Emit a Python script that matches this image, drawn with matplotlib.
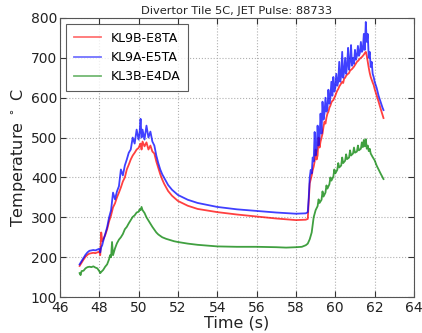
import matplotlib
matplotlib.use("Agg")
import matplotlib.pyplot as plt

# ---- data ----
t_a = [47.0, 47.1, 47.2, 47.3, 47.4, 47.5, 47.6, 47.7, 47.8, 47.9, 48.0,
       48.05, 48.1, 48.15, 48.2, 48.3, 48.4, 48.5, 48.6, 48.7, 48.8, 48.9, 49.0,
       49.1, 49.2, 49.3, 49.4, 49.5, 49.6, 49.7, 49.8, 49.9, 50.0, 50.05, 50.1,
       50.15, 50.2, 50.3, 50.4, 50.5, 50.6, 50.7, 50.8, 50.9, 51.0, 51.1, 51.2,
       51.3, 51.5, 51.7, 52.0, 52.5, 53.0, 53.5, 54.0, 55.0, 56.0, 57.0, 58.0,
       58.5, 58.6, 58.65, 58.7, 58.75, 58.8, 58.85, 58.9, 58.95, 59.0, 59.05,
       59.1, 59.15, 59.2, 59.25, 59.3, 59.35, 59.4, 59.45, 59.5, 59.55, 59.6,
       59.65, 59.7, 59.75, 59.8, 59.85, 59.9, 59.95, 60.0, 60.05, 60.1, 60.15,
       60.2, 60.25, 60.3, 60.35, 60.4, 60.45, 60.5, 60.55, 60.6, 60.65, 60.7,
       60.75, 60.8, 60.85, 60.9, 60.95, 61.0, 61.05, 61.1, 61.15, 61.2, 61.25,
       61.3, 61.35, 61.4, 61.45, 61.5, 61.55, 61.6, 61.65, 61.7, 61.75, 61.8,
       61.85, 61.9, 61.95, 62.0, 62.1, 62.2, 62.3, 62.4, 62.45]

kl9a_e5ta = [182, 190, 198, 206, 212, 216, 217, 218, 217, 219, 221,
             212, 225, 230, 240, 258, 275, 300, 318, 362, 345, 365, 378,
             420, 405, 430, 445, 462, 470, 500, 485, 520, 495, 512, 547,
             500, 520, 495, 530, 500, 515, 490, 480, 455, 436, 420, 408,
             399, 381, 369, 356, 344, 336, 331, 326, 320, 316, 312, 309,
             310, 313, 350, 400, 419, 410, 450, 440, 514, 455, 470,
             530, 480, 500, 560, 510, 590, 545, 560, 600, 565, 575,
             620, 585, 600, 640, 605, 652, 615, 625, 660, 630, 640,
             690, 640, 655, 715, 650, 665, 700, 660, 680, 725, 670,
             690, 732, 680, 700, 685, 720, 695, 705, 730, 705, 712,
             740, 715, 720, 760, 720, 790, 740, 760, 700, 715, 677,
             690, 660, 652, 640, 625, 605, 590, 575, 569]

kl9b_e8ta = [178, 186, 194, 201, 206, 209, 210, 211, 210, 212, 214,
             205, 262, 240, 245, 255, 270, 290, 305, 325, 335, 350, 362,
             375, 390, 400, 420, 432, 445, 455, 462, 470, 474, 480, 485,
             470, 490, 478, 488, 470, 480, 465, 460, 440, 424, 408, 395,
             384, 366, 354, 341, 329, 321, 317, 313, 307, 302, 297, 293,
             294, 296, 340, 385, 395, 405, 418, 427, 440, 470, 445,
             455, 500, 475, 490, 500, 510, 527, 540, 535, 550, 560,
             565, 575, 580, 588, 592, 594, 600, 605, 612, 618, 622,
             628, 632, 636, 640, 637, 648, 650, 655, 658, 660, 662,
             668, 670, 672, 675, 678, 682, 686, 690, 692, 695, 698,
             700, 702, 705, 708, 712, 715, 705, 690, 675, 662, 652,
             645, 638, 632, 622, 606, 590, 573, 557, 549]

t_g = [47.0, 47.05, 47.1, 47.2, 47.3, 47.4, 47.5, 47.6, 47.7, 47.8, 47.9, 48.0,
       48.05, 48.1, 48.2, 48.3, 48.4, 48.5, 48.55, 48.6, 48.65, 48.7, 48.8, 48.9,
       49.0, 49.1, 49.2, 49.3, 49.4, 49.5, 49.6, 49.7, 49.8, 49.9, 50.0, 50.05,
       50.1, 50.15, 50.2, 50.3, 50.4, 50.5, 50.6, 50.7, 50.8, 50.9, 51.0, 51.2,
       51.4, 51.6, 51.8, 52.0, 52.5, 53.0, 53.5, 54.0, 55.0, 56.0, 57.0, 57.5,
       58.0, 58.3, 58.5, 58.6, 58.7, 58.8, 58.9, 59.0, 59.1, 59.15, 59.2, 59.3,
       59.35, 59.4, 59.5, 59.55, 59.6, 59.7, 59.75, 59.8, 59.9, 59.95, 60.0,
       60.1, 60.15, 60.2, 60.3, 60.35, 60.4, 60.5, 60.55, 60.6, 60.7, 60.75,
       60.8, 60.9, 60.95, 61.0, 61.1, 61.15, 61.2, 61.3, 61.35, 61.4, 61.45,
       61.5, 61.55, 61.6, 61.65, 61.7, 61.75, 61.8, 61.9, 62.0, 62.1, 62.2,
       62.3, 62.45]

kl3b_e4da = [160, 155, 165, 166, 172, 175, 176, 175, 177, 174, 172, 165,
             160, 163, 168, 176, 182, 195, 205, 200, 238, 205, 222, 235,
             244, 250, 258, 270, 276, 285, 293, 301, 305, 312, 314, 320,
             318, 326, 318, 311, 300, 292, 284, 276, 269, 262, 257, 250,
             246, 243, 240, 238, 234, 231, 229, 227, 226, 226, 225, 224,
             225, 226, 230, 234, 245, 262, 300, 318, 328, 345, 336, 344,
             365, 352, 362, 380, 372, 383, 400, 392, 402, 420, 410,
             419, 436, 425, 430, 450, 436, 442, 458, 446, 450, 468,
             455, 460, 475, 462, 465, 480, 468, 472, 488, 476, 494,
             478, 496, 472, 480, 466, 472, 460, 451, 443, 430, 420,
             410, 396]

series_labels = ["KL9B-E8TA", "KL9A-E5TA", "KL3B-E4DA"]
title = "Divertor Tile 5C, JET Pulse: 88733"
x_ticks = [46, 48, 50, 52, 54, 56, 58, 60, 62, 64]
y_ticks = [100, 200, 300, 400, 500, 600, 700, 800]

# ---- plot ----
fig = plt.figure(figsize=(4.22, 3.33), dpi=100)
ax = fig.add_axes([0.142, 0.108, 0.839, 0.838])

ax.plot(t_a, kl9b_e8ta, color="red", lw=1.3, alpha=0.75, label=series_labels[0])
ax.plot(t_a, kl9a_e5ta, color="blue", lw=1.3, alpha=0.75, label=series_labels[1])
ax.plot(t_g, kl3b_e4da, color="green", lw=1.3, alpha=0.75, label=series_labels[2])

ax.set_xlim(46, 64)
ax.set_ylim(100, 800)
ax.set_xticks(x_ticks)
ax.set_yticks(y_ticks)
ax.tick_params(labelsize=10, direction="in", length=4, pad=2, color="#333333",
               labelcolor="#222222", top=True, right=True)
ax.tick_params(axis="x", pad=3)
ax.grid(True, linestyle=":", color="#b0b0b0", linewidth=0.8)
for s in ax.spines.values():
    s.set_color("#555555")

ax.set_title(title, fontsize=8.2, color="#222222", pad=3)
ax.set_xlabel("Time (s)", fontsize=11.5, color="#222222", labelpad=0)
ax.set_ylabel(r"Temperature $^\circ$ C", fontsize=11.5, color="#222222", labelpad=2)

leg = ax.legend(loc="upper left", fontsize=9, frameon=True, fancybox=False,
                handlelength=2.2, borderpad=0.6, labelspacing=0.5)
leg.get_frame().set_edgecolor("#333333")
leg.get_frame().set_linewidth(0.8)
for h in leg.get_lines():
    h.set_alpha(0.55)

fig.savefig("out.png", dpi=100)
